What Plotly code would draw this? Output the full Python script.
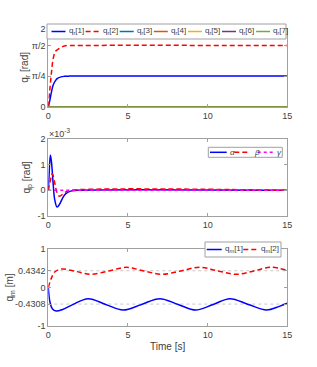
import math
import plotly.graph_objects as go

W, H = 317, 367

# ---------------- data ----------------
# Panel 1: reference joint angles q_r [rad]
t_r = [0, 0.1, 0.2, 0.3, 0.45, 0.6, 0.8, 1.0, 1.3, 1.7, 15]
q_r1 = [0, 0.17, 0.38, 0.55, 0.67, 0.73, 0.765, 0.778, 0.784, 0.785, 0.785]
q_r2 = [0, 0.45, 0.88, 1.22, 1.42, 1.47, 1.52, 1.558, 1.569, 1.571, 1.571]
t_zero = [0, 15]
q_r3 = [0, 0]
q_r4 = [0, 0]
q_r5 = [0, 0]
q_r6 = [0, 0]
q_r7 = [0, 0]
qr_labels = ["q<sub>r</sub>[1]", "q<sub>r</sub>[2]", "q<sub>r</sub>[3]", "q<sub>r</sub>[4]",
             "q<sub>r</sub>[5]", "q<sub>r</sub>[6]", "q<sub>r</sub>[7]"]
qr_colors = ["#0000FF", "#FF0000", "#0072BD", "#D95319", "#EDB120", "#7E2F8E", "#77AC30"]
qr_dashes = ["solid", "5px,3px", "solid", "solid", "solid", "solid", "solid"]

# Panel 2: platform angles q_p [rad]
t_alpha = [0, 0.05, 0.13, 0.2, 0.3, 0.4, 0.55, 0.7, 0.9, 1.1, 1.4, 1.8, 15]
q_alpha = [0, 0.6e-3, 1.38e-3, 1.1e-3, 0.3e-3, -0.35e-3, -0.65e-3, -0.55e-3,
           -0.3e-3, -0.13e-3, -0.03e-3, 0, 0]
t_beta = [0, 0.1, 0.25, 0.4, 0.55, 0.7, 0.9, 1.1, 1.4, 15]
q_beta = [0, 0.3e-3, 0.65e-3, 0.3e-3, -0.1e-3, -0.23e-3, -0.15e-3, -0.06e-3, 0, 0]
t_gamma = [0, 15]
q_gamma = [0, 0]
qp_labels = ["<i>α</i>", "<i>β</i>", "<i>γ</i>"]
qp_colors = ["#0000FF", "#FF0000", "#FF00FF"]
qp_dashes = ["solid", "5px,3px", "dot"]

# Panel 3: q_m [m]
t_m1 = [0, 0.1, 0.25, 0.5, 0.9, 1.5, 2.5, 3.6, 4.7, 5.85, 7.0, 8.15, 9.25,
        10.35, 11.4, 12.55, 13.7, 14.5, 15]
q_m1 = [0, -0.37, -0.55, -0.61, -0.57, -0.45, -0.29, -0.44, -0.585, -0.44,
        -0.29, -0.44, -0.585, -0.44, -0.29, -0.44, -0.585, -0.49, -0.41]
t_m2 = [0, 0.2, 0.42, 0.85, 1.7, 2.65, 3.8, 4.9, 6.0, 7.15, 8.3, 9.5, 10.65,
        11.8, 12.9, 14.0, 15]
q_m2 = [0, 0.25, 0.41, 0.48, 0.42, 0.343, 0.43, 0.525, 0.43, 0.343, 0.43,
        0.525, 0.43, 0.343, 0.43, 0.525, 0.44]
qm_labels = ["q<sub>m</sub>[1]", "q<sub>m</sub>[2]"]
qm_colors = ["#0000FF", "#FF0000"]
qm_dashes = ["solid", "5px,3px"]
qm_ref = [0.4342, -0.4308]

x_ticks = [0, 5, 10, 15]
qr_tickvals = [0, math.pi / 4, math.pi / 2, 2]
qr_ticktext = ["0", "π/4", "π/2", "2"]
qp_tickvals = [-1e-3, 0, 1e-3, 2e-3]
qp_ticktext = ["-1", "0", "1", "2"]
qm_tickvals = [-1, -0.4308, 0, 0.4342, 1]
qm_ticktext = ["-1", "-0.4308", "0", "0.4342", "1"]

# ---------------- layout helpers ----------------
def px(p):
    return p / W

def py(p):
    return 1 - p / H

XL, XR = 48.3, 287.3
panels = [(28.7, 106.7), (139.0, 216.0), (249.0, 326.0)]
TXT = "#404040"

fig = go.Figure()

def add(x, y, xa, ya, color, dash, width=1.5):
    fig.add_trace(go.Scatter(x=x, y=y, xaxis=xa, yaxis=ya, mode="lines",
                             line=dict(color=color, dash=dash, width=width,
                                       shape="spline", smoothing=1),
                             showlegend=False, hoverinfo="skip"))

qr_series = [(t_r, q_r1), (t_r, q_r2), (t_zero, q_r3), (t_zero, q_r4),
             (t_zero, q_r5), (t_zero, q_r6), (t_zero, q_r7)]
for (tx, ty), c, d in zip(qr_series, qr_colors, qr_dashes):
    add(tx, ty, "x", "y", c, d)

qp_series = [(t_alpha, q_alpha), (t_beta, q_beta), (t_gamma, q_gamma)]
for (tx, ty), c, d in zip(qp_series, qp_colors, qp_dashes):
    add(tx, ty, "x2", "y2", c, d)

qm_series = [(t_m1, q_m1), (t_m2, q_m2)]
for (tx, ty), c, d in zip(qm_series, qm_colors, qm_dashes):
    add(tx, ty, "x3", "y3", c, d)

AX = dict(showline=True, linecolor="#a0a0a0", linewidth=1, mirror="ticks",
          ticks="inside", ticklen=3, tickcolor="#a0a0a0", showgrid=False,
          zeroline=False, automargin=False,
          tickfont=dict(family="Liberation Sans, Arial", size=9, color=TXT))

layout = dict(width=W, height=H, margin=dict(l=0, r=0, t=0, b=0),
              paper_bgcolor="white", plot_bgcolor="white", showlegend=False,
              font=dict(family="Liberation Sans, Arial", color=TXT))

yconf = [
    dict(range=[0, 2], tickvals=qr_tickvals, ticktext=qr_ticktext),
    dict(range=[-1e-3, 2e-3], tickvals=qp_tickvals, ticktext=qp_ticktext),
    dict(range=[-1, 1], tickvals=qm_tickvals, ticktext=qm_ticktext),
]
for i, (top, bot) in enumerate(panels):
    sfx = "" if i == 0 else str(i + 1)
    layout["xaxis" + sfx] = dict(AX, domain=[px(XL), px(XR)], range=[0, 15],
                                 tickvals=x_ticks, anchor="y" + sfx)
    layout["yaxis" + sfx] = dict(AX, domain=[py(bot), py(top)], anchor="x" + sfx,
                                 **yconf[i])
fig.update_layout(**layout)

shapes = []
annotations = []

# dotted reference lines in panel 3
for v in qm_ref:
    shapes.append(dict(type="line", xref="x3 domain", yref="y3", x0=0, x1=1,
                       y0=v, y1=v, line=dict(color="#c8c8c8", width=1, dash="dot"),
                       layer="below"))

def legend(box, entries, ytxt):
    x0, x1, y0, y1 = box
    shapes.append(dict(type="rect", xref="paper", yref="paper",
                       x0=px(x0), x1=px(x1), y0=py(y1), y1=py(y0),
                       line=dict(color="#a0a0a0", width=1), fillcolor="white",
                       layer="above"))
    yc = (y0 + y1) / 2
    for (s0, s1, tx, label, color, dash) in entries:
        shapes.append(dict(type="line", xref="paper", yref="paper",
                           x0=px(s0), x1=px(s1), y0=py(yc), y1=py(yc),
                           line=dict(color=color, width=1.5, dash=dash),
                           layer="above"))
        annotations.append(dict(xref="paper", yref="paper", x=px(tx), y=py(ytxt),
                                text=label, showarrow=False, xanchor="left",
                                yanchor="middle",
                                font=dict(size=8, color=TXT)))

# legend 1
ent1 = []
for i, (lab, c, d) in enumerate(zip(qr_labels, qr_colors, qr_dashes)):
    s0 = 51.5 + 34.1 * i
    ent1.append((s0, s0 + 14, s0 + 15, lab, c, d))
legend((47, 286, 24, 39), ent1, 31.0)

# legend 2
starts2 = [(210, 226.7, 227.5), (234.3, 248.3, 251.5), (257.7, 273.3, 275.0)]
ent2 = [(a, b, c, lab, col, d) for (a, b, c), lab, col, d in
        zip(starts2, qp_labels, qp_colors, qp_dashes)]
legend((208.3, 282.3, 147.3, 157.3), ent2, 152.0)

# legend 3
starts3 = [(206.7, 221.7, 222.5), (243.3, 256.7, 259.0)]
ent3 = [(a, b, c, lab, col, d) for (a, b, c), lab, col, d in
        zip(starts3, qm_labels, qm_colors, qm_dashes)]
legend((205, 281, 242, 257), ent3, 249.0)

# axis titles
ytitles = ["q<sub>r</sub> [rad]", "q<sub>p</sub> [rad]", "q<sub>m</sub> [m]"]
ytitle_x = [25, 27, 9]
for (top, bot), t, xt in zip(panels, ytitles, ytitle_x):
    annotations.append(dict(xref="paper", yref="paper", x=px(xt), y=py((top + bot) / 2),
                            text=t, textangle=-90, showarrow=False,
                            xanchor="center", yanchor="middle",
                            font=dict(size=10, color=TXT)))
annotations.append(dict(xref="paper", yref="paper", x=px((XL + XR) / 2), y=py(346),
                        text="Time [s]", showarrow=False, xanchor="center",
                        yanchor="middle", font=dict(size=10, color=TXT)))
annotations.append(dict(xref="paper", yref="paper", x=px(47), y=py(133),
                        text="×10<sup>-3</sup>", showarrow=False, xanchor="left",
                        yanchor="middle", font=dict(size=9, color=TXT)))

fig.update_layout(shapes=shapes, annotations=annotations)
fig.write_html("out.html",
               config={"displayModeBar": False},
               post_script="document.body.style.margin='0';"
                           "document.body.style.overflow='hidden';")
